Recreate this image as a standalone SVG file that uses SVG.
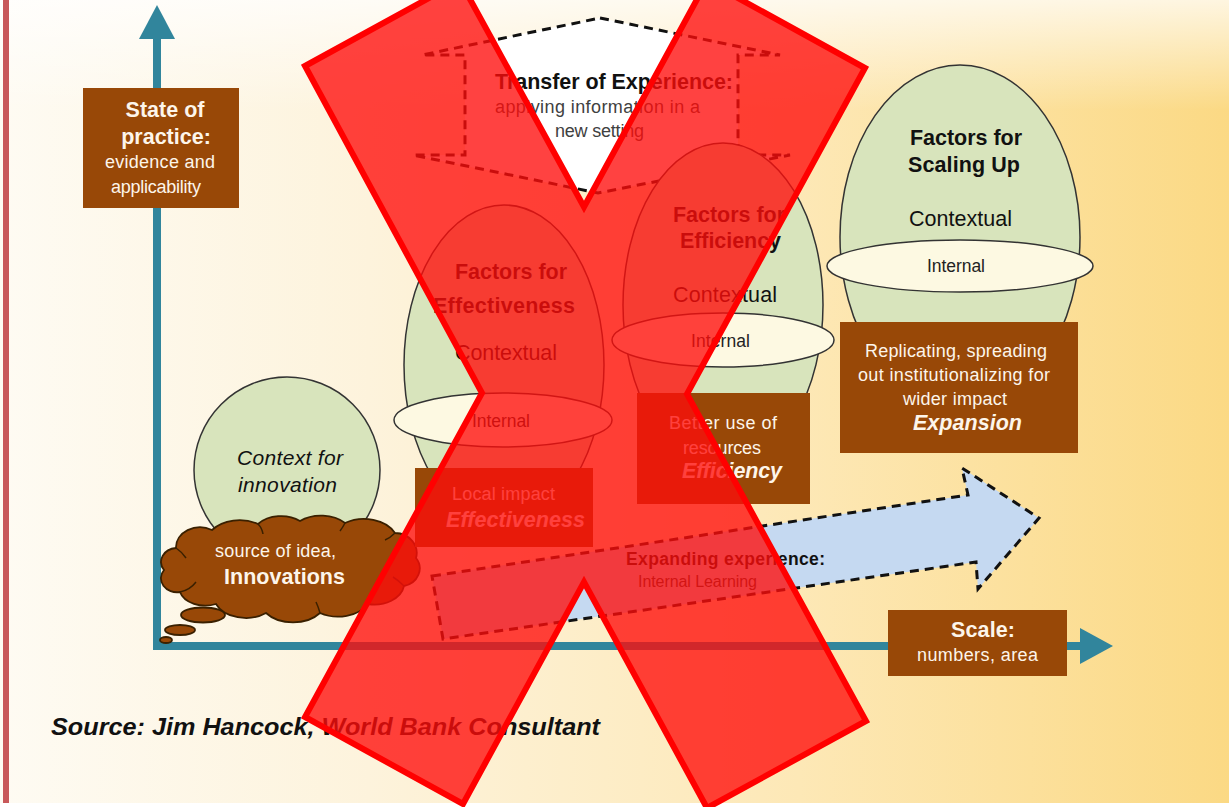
<svg xmlns="http://www.w3.org/2000/svg" width="1229" height="807" viewBox="0 0 1229 807">
<defs>
<linearGradient id="bg" x1="0" y1="0" x2="1" y2="0">
<stop offset="0" stop-color="#fefbf3"/>
<stop offset="0.3" stop-color="#fdf3dc"/>
<stop offset="0.65" stop-color="#fde8b6"/>
<stop offset="1" stop-color="#fbd984"/>
</linearGradient>
<linearGradient id="topfade" x1="0" y1="0" x2="0" y2="1">
<stop offset="0" stop-color="#ffffff" stop-opacity="0.75"/>
<stop offset="1" stop-color="#ffffff" stop-opacity="0"/>
</linearGradient>
<style>
text{font-family:"Liberation Sans",Arial,sans-serif;}
.t{font-weight:bold;font-size:21.5px;fill:#111;text-anchor:middle;}
.r{font-size:21.5px;fill:#111;text-anchor:middle;}
.in{font-size:17.5px;fill:#222;text-anchor:middle;}
.w{font-size:18px;fill:#fdf5ea;text-anchor:middle;}
.wb{font-weight:bold;font-size:21.5px;fill:#fdf5ea;text-anchor:middle;}
.wbi{font-weight:bold;font-style:italic;font-size:21.5px;fill:#fdf5ea;text-anchor:middle;}
.box{fill:#984807;}
.egg{fill:#d8e4bc;stroke:#333;stroke-width:1.5;}
.int{fill:#fdf9e2;stroke:#333;stroke-width:1.5;}
.axis{stroke:#31859c;stroke-width:8;fill:none;}
.ah{fill:#31859c;}
.dash{stroke:#111;stroke-width:3;stroke-dasharray:9 6;}
.cl{fill:#984807;stroke:#3a2000;stroke-width:1.8;}
.crease{fill:none;stroke:#3a2000;stroke-width:1.5;}
</style>
</defs>

<rect x="0" y="0" width="1229" height="803" fill="url(#bg)"/>
<rect x="0" y="0" width="1229" height="110" fill="url(#topfade)"/>
<rect x="0" y="803" width="1229" height="4" fill="#ffffff"/>
<rect x="3" y="0" width="6" height="803" fill="#c8585a"/>

<g id="connectors">
<line class="axis" x1="157" y1="36" x2="157" y2="646"/>
<polygon class="ah" points="139,39 175,39 157,5"/>
<line class="axis" x1="153" y1="646" x2="1082" y2="646"/>
<polygon class="ah" points="1080,628 1080,664 1113,646"/>
</g>

<g id="state-of-practice">
<rect class="box" x="83" y="88" width="156" height="120"/>
<text class="wb" x="165" y="117">State of</text>
<text class="wb" x="166" y="144">practice:</text>
<text class="w" x="160" y="168" textLength="110">evidence and</text>
<text class="w" x="156" y="193" textLength="90">applicability</text>
</g>

<g id="transfer-of-experience">
<path class="dash" fill="#ffffff" d="M600,18 L780,55 L738,55 L738,155 L790,155 L598,193 L413,155 L465,155 L465,55 L422,55 Z"/>
<text class="t" x="614" y="89" textLength="238">Transfer of Experience:</text>
<text x="597.5" y="112.5" font-size="18" fill="#404040" text-anchor="middle" textLength="205">applying information in a</text>
<text x="599.5" y="136.5" font-size="18" fill="#404040" text-anchor="middle" textLength="89">new setting</text>
</g>

<g id="context-for-innovation">
<circle class="egg" cx="287" cy="470" r="93"/>
<text x="290" y="465" font-size="21" font-style="italic" fill="#111" text-anchor="middle" textLength="106">Context for</text>
<text x="287.5" y="492" font-size="21" font-style="italic" fill="#111" text-anchor="middle" textLength="99">innovation</text>
</g>

<g id="innovations">
<ellipse class="cl" cx="203" cy="615" rx="22" ry="7.5"/>
<ellipse class="cl" cx="180" cy="630" rx="15" ry="5"/>
<ellipse class="cl" cx="166" cy="640" rx="6" ry="3"/>
<path class="cl" d="M176,548 A24,20 0 0 1 212,530 A34,24 0 0 1 258,524 A30,22 0 0 1 300,521 A32,22 0 0 1 345,523 A34,24 0 0 1 395,533 A22,20 0 0 1 416,558 A20,18 0 0 1 404,586 A30,22 0 0 1 368,604 A34,24 0 0 1 320,613 A34,24 0 0 1 266,613 A32,22 0 0 1 216,604 A26,18 0 0 1 180,592 A16,14 0 0 1 164,570 A16,14 0 0 1 176,548 Z"/>
<path class="crease" d="M176,548 Q182,552 186,558"/>
<path class="crease" d="M180,592 Q190,590 196,582"/>
<path class="crease" d="M258,524 Q262,528 263,534"/>
<path class="crease" d="M345,523 Q343,527 340,531"/>
<path class="crease" d="M395,533 Q390,538 385,540"/>
<path class="crease" d="M404,586 Q398,580 393,577"/>
<path class="crease" d="M320,613 Q318,606 316,602"/>
<text class="w" x="275.5" y="557" textLength="121">source of idea,</text>
<text class="wb" x="284.5" y="584" textLength="121">Innovations</text>
</g>

<g id="factors-effectiveness">
<ellipse class="egg" cx="504" cy="365" rx="100" ry="160"/>
<text class="t" x="511" y="279" textLength="112">Factors for</text>
<text class="t" x="504" y="313" textLength="142">Effectiveness</text>
<text class="r" x="506" y="360" textLength="102">Contextual</text>
<ellipse class="int" cx="503" cy="420" rx="109" ry="27"/>
<text class="in" x="501" y="427" textLength="58">Internal</text>
<rect class="box" x="415" y="468" width="178" height="79"/>
<text class="w" x="503.5" y="500" textLength="103">Local impact</text>
<text class="wbi" x="515.5" y="527" textLength="139">Effectiveness</text>
</g>

<g id="factors-efficiency">
<ellipse class="egg" cx="723" cy="305" rx="100" ry="162"/>
<text class="t" x="729" y="222" textLength="112">Factors for</text>
<text class="t" x="730.5" y="248" textLength="101">Efficiency</text>
<text class="r" x="725" y="302" textLength="104">Contextual</text>
<ellipse class="int" cx="723" cy="340" rx="111" ry="27"/>
<text class="in" x="720.5" y="347" textLength="59">Internal</text>
<rect class="box" x="637" y="393" width="173" height="111"/>
<text class="w" x="723" y="429" textLength="108">Better use of</text>
<text class="w" x="722" y="454" textLength="78">resources</text>
<text class="wbi" x="732" y="478" textLength="100">Efficiency</text>
</g>

<g id="factors-scaling-up">
<ellipse class="egg" cx="960" cy="237" rx="120" ry="172"/>
<text class="t" x="966" y="145" textLength="112">Factors for</text>
<text class="t" x="964" y="172" textLength="112">Scaling Up</text>
<text class="r" x="960.5" y="226" textLength="103">Contextual</text>
<ellipse class="int" cx="960" cy="266" rx="133" ry="26"/>
<text class="in" x="956" y="272" textLength="58">Internal</text>
<rect class="box" x="840" y="322" width="238" height="131"/>
<text class="w" x="956" y="357" textLength="182">Replicating, spreading</text>
<text class="w" x="954" y="381" textLength="192">out institutionalizing for</text>
<text class="w" x="955" y="405" textLength="104">wider impact</text>
<text class="wbi" x="967.5" y="430" textLength="109">Expansion</text>
</g>

<g id="expanding-experience">
<path class="dash" fill="#c5d9f1" d="M432,576 L968,495 L962,468 L1039,518 L978,589 L976,562 L443,639 Z"/>
<text x="725.5" y="565" font-size="17.5" font-weight="bold" fill="#111" text-anchor="middle" textLength="199">Expanding experience:</text>
<text x="697.5" y="587" font-size="16" fill="#333" text-anchor="middle" textLength="119">Internal Learning</text>
</g>

<g id="scale">
<rect class="box" x="888" y="610" width="179" height="66"/>
<text class="wb" x="983" y="637" textLength="64">Scale:</text>
<text class="w" x="977.5" y="661" textLength="121">numbers, area</text>
</g>

<g id="source">
<text x="51" y="735" font-size="24" font-weight="bold" font-style="italic" fill="#111" textLength="549" lengthAdjust="spacingAndGlyphs">Source: Jim Hancock, World Bank Consultant</text>
</g>

<g id="red-x">
<polygon points="305,66 460,-19 584,207 707,-19 865,68 687,394 866,721 707,808 584,582 463,804 305,717 482,393" fill="#ff0d0b" fill-opacity="0.78" stroke="#ff0000" stroke-width="6" stroke-linejoin="miter"/>
</g>
</svg>
